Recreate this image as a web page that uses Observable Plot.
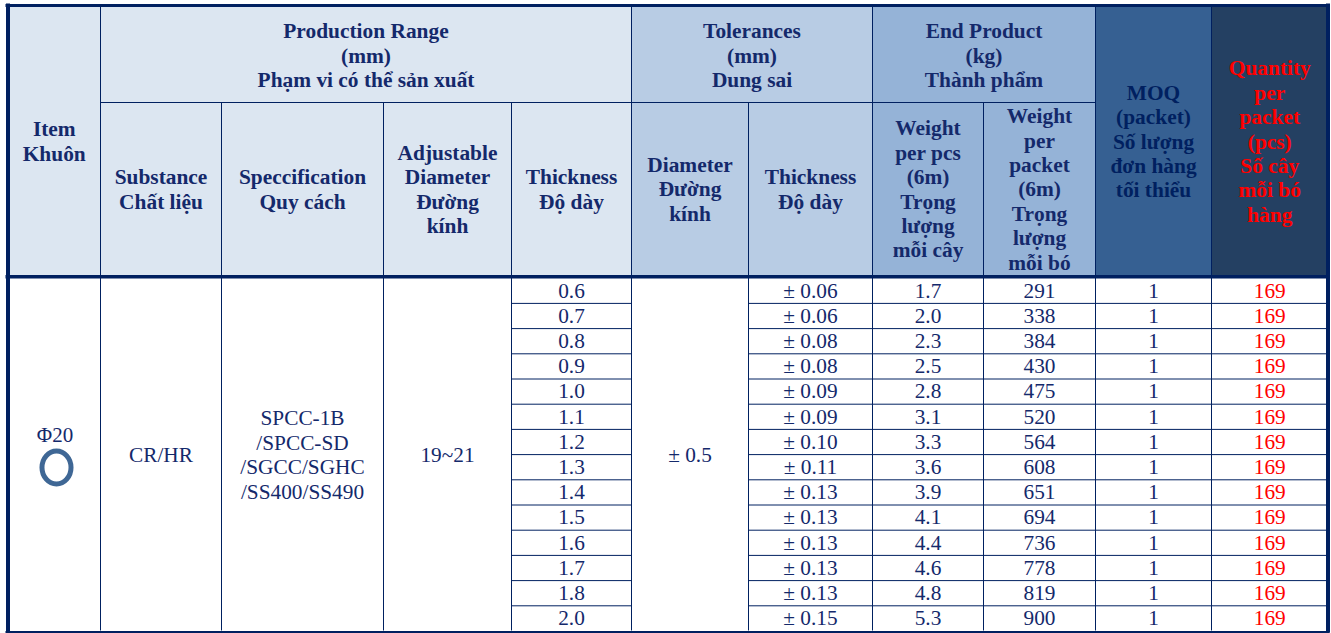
<!DOCTYPE html>
<html>
<head>
<meta charset="utf-8">
<script src="https://cdn.jsdelivr.net/npm/d3@7"></script>
<script src="https://cdn.jsdelivr.net/npm/@observablehq/plot@0.6"></script>
<style>html,body{margin:0;padding:0;background:#fff}svg{display:block}</style>
</head>
<body>
<div id="chart"></div>
<script>
// table values
const thickness = ["0.6","0.7","0.8","0.9","1.0","1.1","1.2","1.3","1.4","1.5","1.6","1.7","1.8","2.0"];
const toleranceThickness = ["± 0.06","± 0.06","± 0.08","± 0.08","± 0.09","± 0.09","± 0.10","± 0.11","± 0.13","± 0.13","± 0.13","± 0.13","± 0.13","± 0.15"];
const weightPerPcs = ["1.7","2.0","2.3","2.5","2.8","3.1","3.3","3.6","3.9","4.1","4.4","4.6","4.8","5.3"];
const weightPerPacket = ["291","338","384","430","475","520","564","608","651","694","736","778","819","900"];
const moq = ["1","1","1","1","1","1","1","1","1","1","1","1","1","1"];
const quantity = ["169","169","169","169","169","169","169","169","169","169","169","169","169","169"];
const item = "Φ20";
const substance = "CR/HR";
const specification = "SPCC-1B\n/SPCC-SD\n/SGCC/SGHC\n/SS400/SS490";
const adjustable = "19~21";
const diameterTolerance = "± 0.5";

// column and row layout (in table units)
const colEdges = [7.5, 100, 221, 383, 511, 631, 748, 872, 983, 1095, 1211, 1327.5];
const headTop = 5, headMid = 102, headBottom = 276.3, bodyBottom = 630.5, rowStep = 25.2;
const bodyTop = bodyBottom - rowStep * thickness.length;
const rowEdge = i => bodyTop + rowStep * i;
// vertical text centres of the three header bands
const upperCentre = 54.5, fullCentre = 140.3, lowerCentre = 188.15;

const navy = "#002060", ink = "#14296b", red = "#ff0000";
const tint1 = "#dce6f1", tint2 = "#b8cce4", tint3 = "#95b3d7", tint4 = "#366092", tint5 = "#244062";

// header cells: [first col, last col edge, top, bottom, text centre, text, fill, colour]
const headerCells = [
  [0, 1, headTop, headBottom, fullCentre, "Item\nKhuôn", tint1, ink],
  [1, 5, headTop, headMid, upperCentre, "Production Range\n(mm)\nPhạm vi có thể sản xuất", tint1, ink],
  [1, 2, headMid, headBottom, lowerCentre, "Substance\nChất liệu", tint1, ink],
  [2, 3, headMid, headBottom, lowerCentre, "Speccification\nQuy cách", tint1, ink],
  [3, 4, headMid, headBottom, lowerCentre, "Adjustable\nDiameter\nĐường\nkính", tint1, ink],
  [4, 5, headMid, headBottom, lowerCentre, "Thickness\nĐộ dày", tint1, ink],
  [5, 7, headTop, headMid, upperCentre, "Tolerances\n(mm)\nDung sai", tint2, ink],
  [5, 6, headMid, headBottom, lowerCentre, "Diameter\nĐường\nkính", tint2, ink],
  [6, 7, headMid, headBottom, lowerCentre, "Thickness\nĐộ dày", tint2, ink],
  [7, 9, headTop, headMid, upperCentre, "End Product\n(kg)\nThành phẩm", tint3, ink],
  [7, 8, headMid, headBottom, lowerCentre, "Weight\nper pcs\n(6m)\nTrọng\nlượng\nmỗi cây", tint3, ink],
  [8, 9, headMid, headBottom, lowerCentre, "Weight\nper\npacket\n(6m)\nTrọng\nlượng\nmỗi bó", tint3, ink],
  [9, 10, headTop, headBottom, fullCentre, "MOQ\n(packet)\nSố lượng\nđơn hàng\ntối thiểu", tint4, navy],
  [10, 11, headTop, headBottom, fullCentre, "Quantity\nper\npacket\n(pcs)\nSố cây\nmỗi bó\nhàng", tint5, red]
].map(([a, b, y1, y2, yc, text, fill, color]) => ({x1: colEdges[a], x2: colEdges[b], y1, y2, yc, text, fill, color}));

// merged body cells
const mergedCells = [
  [1, substance], [2, specification], [3, adjustable], [5, diameterTolerance]
].map(([c, text]) => ({x: (colEdges[c] + colEdges[c + 1]) / 2, y: (bodyTop + bodyBottom) / 2, text}));

// per-row body cells
const rowColumns = [[4, thickness, ink], [6, toleranceThickness, ink], [7, weightPerPcs, ink], [8, weightPerPacket, ink], [9, moq, ink], [10, quantity, red]];
const rowCells = rowColumns.flatMap(([c, values, color]) => values.map((text, i) => ({
  x: (colEdges[c] + colEdges[c + 1]) / 2, y: rowEdge(i) + rowStep / 2 , text, color
})));

// thin grid lines
const vLines = [1,2,3,4,5,6,7,8,9,10].map(c => ({x: colEdges[c], y1: [2,3,4,6,8].includes(c) ? headMid : headTop, y2: bodyBottom}));
const hLines = [
  {x1: colEdges[1], x2: colEdges[9], y: headMid},
  ...d3.range(1, thickness.length).flatMap(i => [
    {x1: colEdges[4], x2: colEdges[5], y: rowEdge(i)},
    {x1: colEdges[6], x2: colEdges[11], y: rowEdge(i)}
  ])
];

// ring: an ellipse symbol (taller than wide)
const ring = {draw(ctx, size) {
  const r = Math.sqrt(size / Math.PI), rx = r * 0.88, ry = r, k = 0.5523;
  ctx.moveTo(rx, 0);
  ctx.bezierCurveTo(rx, k * ry, k * rx, ry, 0, ry);
  ctx.bezierCurveTo(-k * rx, ry, -rx, k * ry, -rx, 0);
  ctx.bezierCurveTo(-rx, -k * ry, -k * rx, -ry, 0, -ry);
  ctx.bezierCurveTo(k * rx, -ry, rx, -k * ry, rx, 0);
  ctx.closePath();
}};

const serif = "'Liberation Serif','Times New Roman',serif";
const headSize = 21.4, bodySize = 21.3, lead = 24.4;

const chart = Plot.plot({
  width: 1331, height: 633,
  margin: 0,
  x: {domain: [0, 1331], range: [0, 1331], axis: null},
  y: {domain: [0, 633], range: [0, 633], axis: null},
  style: {fontFamily: serif, background: "#fff"},
  marks: [
    Plot.rect(headerCells, {x1: "x1", x2: "x2", y1: "y1", y2: "y2", fill: "fill"}),
    Plot.ruleX(vLines, {x: "x", y1: "y1", y2: "y2", stroke: navy, strokeWidth: 1}),
    Plot.ruleY(hLines, {y: "y", x1: "x1", x2: "x2", stroke: navy, strokeWidth: 1}),
    // thick outer and header borders
    Plot.ruleY([headTop], {x1: colEdges[0] - 2, x2: colEdges[11] + 2, stroke: navy, strokeWidth: 3}),
    Plot.ruleY([headBottom], {x1: colEdges[0] - 2, x2: colEdges[11] + 2, stroke: navy, strokeWidth: 3.6}),
    Plot.ruleY([bodyBottom + 1.2], {x1: colEdges[0] - 2, x2: colEdges[11] + 2, stroke: navy, strokeWidth: 2.6}),
    Plot.ruleX([colEdges[0], colEdges[11]], {y1: headTop - 1.5, y2: bodyBottom + 2, stroke: navy, strokeWidth: 4}),
    Plot.text(headerCells, {
      x: d => (d.x1 + d.x2) / 2, y: "yc", text: "text",
      fill: "color", fontWeight: "bold", fontSize: headSize, lineHeight: lead / headSize, lineAnchor: "middle", textAnchor: "middle"
    }),
    Plot.text(rowCells, {x: "x", y: "y", text: "text", fill: "color", fontSize: bodySize, lineAnchor: "middle", textAnchor: "middle"}),
    Plot.text(mergedCells, {x: "x", y: "y", text: "text", dy: -0.5, fill: ink, fontSize: bodySize, lineHeight: lead / bodySize, lineAnchor: "middle", textAnchor: "middle"}),
    Plot.text([item], {x: [54.5], y: [435], text: d => d, fill: ink, fontSize: 21, lineAnchor: "middle", textAnchor: "middle"}),
    Plot.dot([item], {x: [56], y: [467], r: 16.5, symbol: ring, fill: "none", stroke: "#3f6795", strokeWidth: 5})
  ]
});
document.getElementById("chart").append(chart);
</script>
</body>
</html>
